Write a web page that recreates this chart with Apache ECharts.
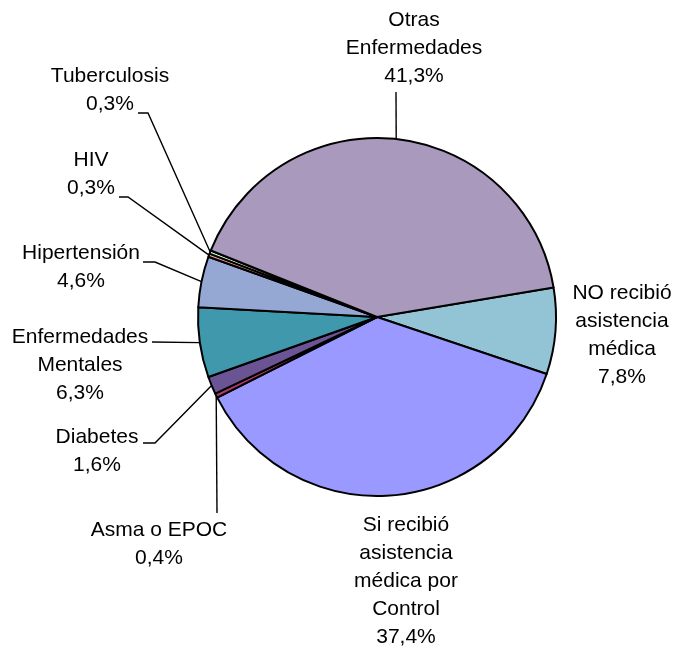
<!DOCTYPE html>
<html><head><meta charset="utf-8">
<script src="https://cdn.jsdelivr.net/npm/echarts@6/dist/echarts.min.js"></script>
<style>html,body{margin:0;padding:0;background:#fff}#c{width:680px;height:653px}</style>
</head><body><div id="c"></div>
<script>
// ---- data ----
const categories = [
  'NO recibió\nasistencia\nmédica',
  'Si recibió\nasistencia\nmédica por\nControl',
  'Asma o EPOC',
  'Diabetes',
  'Enfermedades\nMentales',
  'Hipertensión',
  'HIV',
  'Tuberculosis',
  'Otras\nEnfermedades'
];
const values = [7.8, 37.4, 0.4, 1.6, 6.3, 4.6, 0.3, 0.3, 41.3];

// ---- styles ----
const colors = ['#92C4D6', '#9999FF', '#B03A6A', '#6A5494', '#4098AD', '#95A8D4', '#FF9999', '#CCFFCC', '#A899BD'];

// label anchors (center of text block) and leader line bends
const labelPlaces = [
  { x: 622, y: 335, pts: null },
  { x: 406, y: 581, pts: null },
  { x: 159, y: 544, pts: [[217, 513], [217, 513]] },
  { x: 97,  y: 451, pts: [[155, 443], [143, 443]] },
  { x: 80,  y: 365, pts: [[152, 342], [152, 342]] },
  { x: 81,  y: 267, pts: [[155, 262], [143, 262]] },
  { x: 91,  y: 174, pts: [[128, 197], [119, 197]] },
  { x: 110, y: 90,  pts: [[148, 113], [138, 113]] },
  { x: 414, y: 48,  pts: [[396, 92], [396, 92]] }
];

const fmt = v => v.toFixed(1).replace('.', ',') + '%';

const chart = echarts.init(document.getElementById('c'), null, { renderer: 'canvas' });
chart.setOption({
  animation: false,
  backgroundColor: '#ffffff',
  series: [{
    type: 'pie',
    center: [377, 317],
    radius: 179,
    startAngle: 9.5,
    clockwise: true,
    avoidLabelOverlap: false,
    data: categories.map((c, i) => ({
      name: c,
      value: values[i],
      itemStyle: { color: colors[i] },
      labelLine: { show: !!labelPlaces[i].pts }
    })),
    itemStyle: { borderColor: '#000', borderWidth: 2 },
    label: {
      show: true,
      position: 'outside',
      formatter: p => p.name + '\n' + fmt(p.value),
      fontFamily: '"Liberation Sans", Arial, sans-serif',
      fontSize: 21,
      lineHeight: 28,
      color: '#000',
      align: 'center'
    },
    labelLine: { show: true, length: 10, length2: 10, lineStyle: { color: '#000', width: 1.4 } },
    labelLayout: function (params) {
      const L = labelPlaces[params.dataIndex];
      const out = { x: L.x, y: L.y, align: 'center', verticalAlign: 'middle' };
      if (L.pts && params.labelLinePoints) {
        out.labelLinePoints = [params.labelLinePoints[0].slice(), L.pts[0], L.pts[1]];
      }
      return out;
    },
    emphasis: { disabled: true }
  }]
});
</script>
</body></html>
